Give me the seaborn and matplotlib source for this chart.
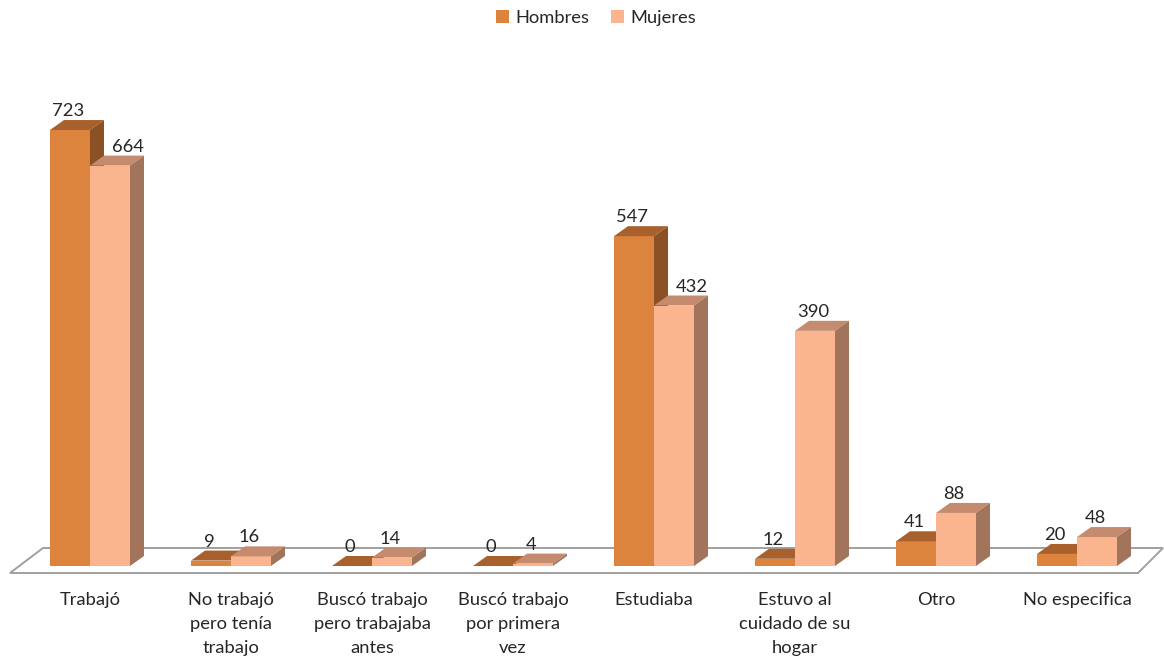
import numpy as np
import pandas as pd
import seaborn as sns
import matplotlib.pyplot as plt
from matplotlib.patches import Polygon, Patch

# ---- data -------------------------------------------------------------
categories = [
    "Trabajó",
    "No trabajó\npero tenía\ntrabajo",
    "Buscó trabajo\npero trabajaba\nantes",
    "Buscó trabajo\npor primera\nvez",
    "Estudiaba",
    "Estuvo al\ncuidado de su\nhogar",
    "Otro",
    "No especifica",
]
series = ["Hombres", "Mujeres"]
hombres = [723, 9, 0, 0, 547, 12, 41, 20]
mujeres = [664, 16, 14, 4, 432, 390, 88, 48]

# ---- style ------------------------------------------------------------
front_col = {"Hombres": "#DC833E", "Mujeres": "#FAB58F"}
top_col = {"Hombres": "#A8612C", "Mujeres": "#C48B6F"}
side_col = {"Hombres": "#8B5024", "Mujeres": "#A2745B"}

sns.set_theme(style="white")
plt.rcParams["font.family"] = ["Lato", "DejaVu Sans"]
FS = 13.2

W, H = 1164, 657
fig = plt.figure(figsize=(W / 100, H / 100), dpi=100)
ax = fig.add_axes([0, 0, 1, 1])

# pixel geometry of the pseudo-3D frame
PX_CAT = 141.0      # pixels between category centres
PX_UNIT = 0.603     # pixels per unit of value
X0_PX, BASE_PX = 90, 566
DX = 14 / PX_CAT    # depth offset (x)
DY = 10 / PX_UNIT   # depth offset (y)


def vy(px):
    """vertical pixel (from top) -> value coordinate"""
    return (BASE_PX - px) / PX_UNIT


def vx(px):
    return (px - X0_PX) / PX_CAT


df = pd.DataFrame({
    "categoria": categories * 2,
    "sexo": [series[0]] * len(categories) + [series[1]] * len(categories),
    "valor": hombres + mujeres,
})

# floor of the chart
floor = Polygon(
    [(vx(10), vy(573)), (vx(1138), vy(573)), (vx(1163), vy(548)), (vx(43), vy(548))],
    closed=True, facecolor="white", edgecolor="#A0A0A0", lw=1.4, zorder=0,
)
ax.add_patch(floor)

sns.barplot(
    data=df, x="categoria", y="valor", hue="sexo", hue_order=series,
    order=categories, palette=front_col, width=80 / PX_CAT, saturation=1,
    linewidth=0, legend=False, ax=ax, errorbar=None,
)

vals = {"Hombres": hombres, "Mujeres": mujeres}
for level, container in zip(series, ax.containers):
    z = 2 if level == "Hombres" else 3
    for i, bar in enumerate(container.patches):
        bar.set_zorder(z)
        x, w, h = bar.get_x(), bar.get_width(), bar.get_height()
        top = Polygon([(x, h), (x + w, h), (x + w + DX, h + DY), (x + DX, h + DY)],
                      closed=True, facecolor=top_col[level], edgecolor="none", zorder=z)
        side = Polygon([(x + w, 0), (x + w + DX, DY), (x + w + DX, h + DY), (x + w, h)],
                       closed=True, facecolor=side_col[level], edgecolor="none", zorder=z)
        ax.add_patch(top)
        ax.add_patch(side)
        lx = x + w / 2 - 2 / PX_CAT
        if level == "Mujeres" and mujeres[i] < hombres[i]:
            lx += 20 / PX_CAT
        ax.text(lx, h + DY + 4 / PX_UNIT, f"{vals[level][i]}", ha="center",
                va="baseline", fontsize=FS, color="#262626", zorder=5)

for i, cat in enumerate(categories):
    ax.text(i, vy(592), cat, ha="center", va="top", fontsize=FS,
            color="#262626", linespacing=1.6, zorder=5)

ax.set_xlim(vx(0), vx(W))
ax.set_ylim(vy(H), vy(0))
ax.axis("off")

handles = [Patch(facecolor=front_col[s], edgecolor="none", label=s) for s in series]
fig.legend(handles=handles, loc="center", bbox_to_anchor=(596 / W, 1 - 18 / H), ncol=2,
           frameon=False, fontsize=FS, handlelength=0.7, handleheight=0.7,
           handletextpad=0.35, columnspacing=1.2, labelcolor="#262626")

fig.savefig("out.png", dpi=100, facecolor="white")
